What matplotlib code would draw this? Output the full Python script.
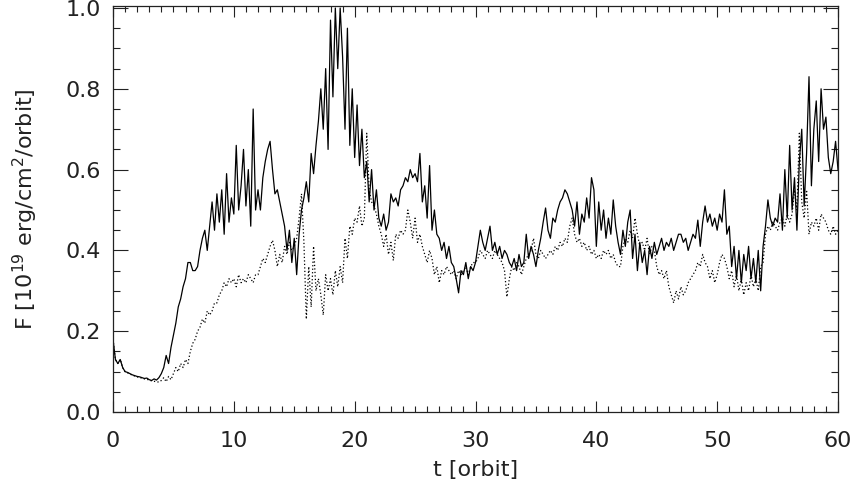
import numpy as np
import matplotlib
matplotlib.use('Agg')
import matplotlib.pyplot as plt
from matplotlib.ticker import MultipleLocator

# flux, one value every 0.2 orbit (5 per orbit)
solid = [
    0.18, 0.13, 0.12, 0.13, 0.11,
    0.10, 0.098, 0.095, 0.092, 0.09,
    0.088, 0.087, 0.085, 0.083, 0.084,
    0.08, 0.078, 0.082, 0.079, 0.085,
    0.095, 0.11, 0.14, 0.12, 0.16,
    0.19, 0.22, 0.26, 0.28, 0.31,
    0.33, 0.37, 0.37, 0.35, 0.35,
    0.36, 0.40, 0.43, 0.45, 0.40,
    0.46, 0.52, 0.45, 0.54, 0.47,
    0.55, 0.44, 0.59, 0.47, 0.53,
    0.49, 0.66, 0.50, 0.56, 0.65,
    0.51, 0.60, 0.46, 0.75, 0.50,
    0.55, 0.50, 0.58, 0.62, 0.65,
    0.67, 0.60, 0.54, 0.55, 0.52,
    0.49, 0.46, 0.40, 0.45, 0.37,
    0.43, 0.34, 0.44, 0.50, 0.53,
    0.57, 0.52, 0.64, 0.59, 0.66,
    0.72, 0.80, 0.70, 0.85, 0.65,
    0.97, 0.78, 1.00, 0.85, 1.00,
    0.88, 0.70, 0.95, 0.66, 0.80,
    0.63, 0.76, 0.61, 0.70, 0.58,
    0.62, 0.52, 0.60, 0.50, 0.55,
    0.48, 0.46, 0.49, 0.45, 0.47,
    0.54, 0.52, 0.53, 0.51, 0.55,
    0.56, 0.58, 0.57, 0.60, 0.58,
    0.59, 0.57, 0.64, 0.52, 0.56,
    0.48, 0.61, 0.45, 0.50, 0.44,
    0.43, 0.40, 0.42, 0.38, 0.41,
    0.37, 0.36, 0.33, 0.295, 0.35,
    0.34, 0.37, 0.33, 0.36, 0.35,
    0.37, 0.41, 0.45, 0.42, 0.40,
    0.43, 0.46, 0.40, 0.42, 0.39,
    0.41, 0.38, 0.40, 0.39, 0.37,
    0.36, 0.38, 0.35, 0.39, 0.36,
    0.37, 0.44, 0.38, 0.41, 0.39,
    0.36, 0.40, 0.43, 0.47, 0.505,
    0.45, 0.43, 0.48, 0.47, 0.50,
    0.52, 0.53, 0.55, 0.54, 0.52,
    0.50, 0.46, 0.52, 0.44, 0.49,
    0.47, 0.53, 0.48, 0.58, 0.55,
    0.41, 0.52, 0.45, 0.50, 0.43,
    0.48, 0.44, 0.525, 0.46, 0.42,
    0.39, 0.45, 0.41, 0.47, 0.50,
    0.38, 0.44, 0.35, 0.42, 0.37,
    0.40, 0.34, 0.41, 0.38, 0.42,
    0.39, 0.41, 0.43, 0.40, 0.42,
    0.41, 0.43, 0.40, 0.42, 0.44,
    0.44, 0.42, 0.43, 0.40, 0.42,
    0.44, 0.43, 0.475, 0.41, 0.47,
    0.51, 0.47, 0.49, 0.46, 0.48,
    0.45, 0.49, 0.47, 0.55, 0.44,
    0.46, 0.36, 0.41, 0.33, 0.40,
    0.32, 0.39, 0.35, 0.41, 0.33,
    0.38, 0.32, 0.40, 0.30, 0.41,
    0.46, 0.525, 0.48, 0.46, 0.48,
    0.47, 0.54, 0.45, 0.60, 0.48,
    0.66, 0.50, 0.58, 0.45, 0.62,
    0.70, 0.51, 0.64, 0.83, 0.56,
    0.70, 0.77, 0.62, 0.80, 0.70,
    0.73, 0.63, 0.59, 0.62, 0.67,
    0.60,
]

dotted = [
    0.18, 0.13, 0.12, 0.13, 0.11,
    0.10, 0.097, 0.094, 0.091, 0.089,
    0.087, 0.085, 0.084, 0.082, 0.081,
    0.079, 0.077, 0.076, 0.075, 0.074,
    0.078, 0.085, 0.075, 0.088, 0.08,
    0.095, 0.11, 0.10, 0.12, 0.11,
    0.13, 0.12, 0.15, 0.17, 0.18,
    0.20, 0.21, 0.23, 0.22, 0.25,
    0.24, 0.25, 0.27, 0.27, 0.29,
    0.30, 0.32, 0.31, 0.33, 0.32,
    0.33, 0.31, 0.34, 0.32, 0.33,
    0.32, 0.34, 0.33, 0.32, 0.34,
    0.34, 0.36, 0.38, 0.37, 0.39,
    0.41, 0.425, 0.40, 0.36, 0.39,
    0.37, 0.41, 0.39, 0.42, 0.40,
    0.41, 0.43, 0.48, 0.54, 0.42,
    0.23, 0.36, 0.26, 0.41, 0.30,
    0.33, 0.29, 0.24, 0.34, 0.30,
    0.33, 0.29, 0.35, 0.31, 0.36,
    0.32, 0.43, 0.38, 0.46, 0.44,
    0.48, 0.47, 0.51, 0.46, 0.48,
    0.69, 0.55, 0.52, 0.51, 0.49,
    0.46, 0.44, 0.41, 0.44, 0.39,
    0.42, 0.375, 0.44, 0.43, 0.45,
    0.44, 0.45, 0.50, 0.47, 0.43,
    0.48, 0.42, 0.44, 0.41, 0.39,
    0.37, 0.40, 0.38, 0.34, 0.36,
    0.32, 0.35, 0.34, 0.36, 0.35,
    0.34, 0.35, 0.33, 0.35, 0.34,
    0.35, 0.36, 0.34, 0.36, 0.37,
    0.37, 0.38, 0.40, 0.39, 0.38,
    0.40, 0.39, 0.38, 0.40, 0.39,
    0.38, 0.37, 0.35, 0.285, 0.33,
    0.36, 0.35, 0.37, 0.36, 0.34,
    0.36, 0.38, 0.39, 0.40, 0.43,
    0.39, 0.38, 0.40, 0.39, 0.38,
    0.39, 0.40, 0.39, 0.41, 0.40,
    0.42, 0.41, 0.43, 0.42, 0.46,
    0.48, 0.44, 0.42, 0.43, 0.41,
    0.42, 0.40, 0.41, 0.39, 0.40,
    0.38, 0.39, 0.38, 0.40, 0.39,
    0.40, 0.38, 0.39, 0.37, 0.36,
    0.36, 0.41, 0.43, 0.42, 0.45,
    0.43, 0.48, 0.44, 0.41, 0.42,
    0.40, 0.43, 0.39, 0.41, 0.40,
    0.36, 0.34, 0.35, 0.33, 0.35,
    0.31, 0.29, 0.27, 0.30, 0.28,
    0.31, 0.29, 0.30, 0.32, 0.33,
    0.34, 0.35, 0.37, 0.36, 0.39,
    0.37, 0.36, 0.33, 0.35, 0.32,
    0.34, 0.37, 0.39, 0.38, 0.36,
    0.33, 0.35, 0.31, 0.34, 0.30,
    0.33, 0.29, 0.32, 0.30, 0.34,
    0.31, 0.33, 0.30, 0.36, 0.37,
    0.44, 0.46, 0.45, 0.47, 0.46,
    0.45, 0.47, 0.48, 0.46, 0.49,
    0.47, 0.49, 0.55, 0.50, 0.69,
    0.52, 0.48, 0.55, 0.44, 0.47,
    0.46, 0.48, 0.45, 0.49, 0.48,
    0.47, 0.45, 0.44, 0.46, 0.44,
    0.45,
]

t = np.linspace(0, 60, len(solid))

txt = '#222222'
plt.rcParams['font.family'] = ['DejaVu Sans']

fig = plt.figure(figsize=(8.57, 4.99), dpi=100)
ax = fig.add_axes([113/857, 1-412/499, 725/857, 406/499])

ax.plot(t, dotted, color='black', lw=0.9, ls=(0, (1, 1.8)))
ax.plot(t, solid, color='black', lw=0.9)

ax.set_xlim(0, 60)
ax.set_ylim(0, 1.005)
ax.xaxis.set_major_locator(MultipleLocator(10))
ax.xaxis.set_minor_locator(MultipleLocator(1))
ax.yaxis.set_major_locator(MultipleLocator(0.2))
ax.yaxis.set_minor_locator(MultipleLocator(0.05))
ax.yaxis.set_major_formatter(matplotlib.ticker.FormatStrFormatter('%.1f'))

ax.tick_params(which='both', direction='in', top=True, right=True,
               colors=txt, labelsize=16)
ax.tick_params(axis='y', which='major', length=11, width=0.8, pad=9)
ax.tick_params(axis='y', which='minor', length=5, width=0.8)
ax.tick_params(axis='x', which='major', length=8, width=0.8, pad=14)
ax.tick_params(axis='x', which='minor', length=4, width=0.8)
for s in ax.spines.values():
    s.set_linewidth(0.9)
    s.set_color(txt)

ax.set_xlabel('t [orbit]', fontsize=16, color=txt, labelpad=6)
ax.set_ylabel(r'F [10$^{19}$ erg/cm$^2$/orbit]', fontsize=16, color=txt,
              labelpad=18)

fig.savefig('out.png', dpi=100)
